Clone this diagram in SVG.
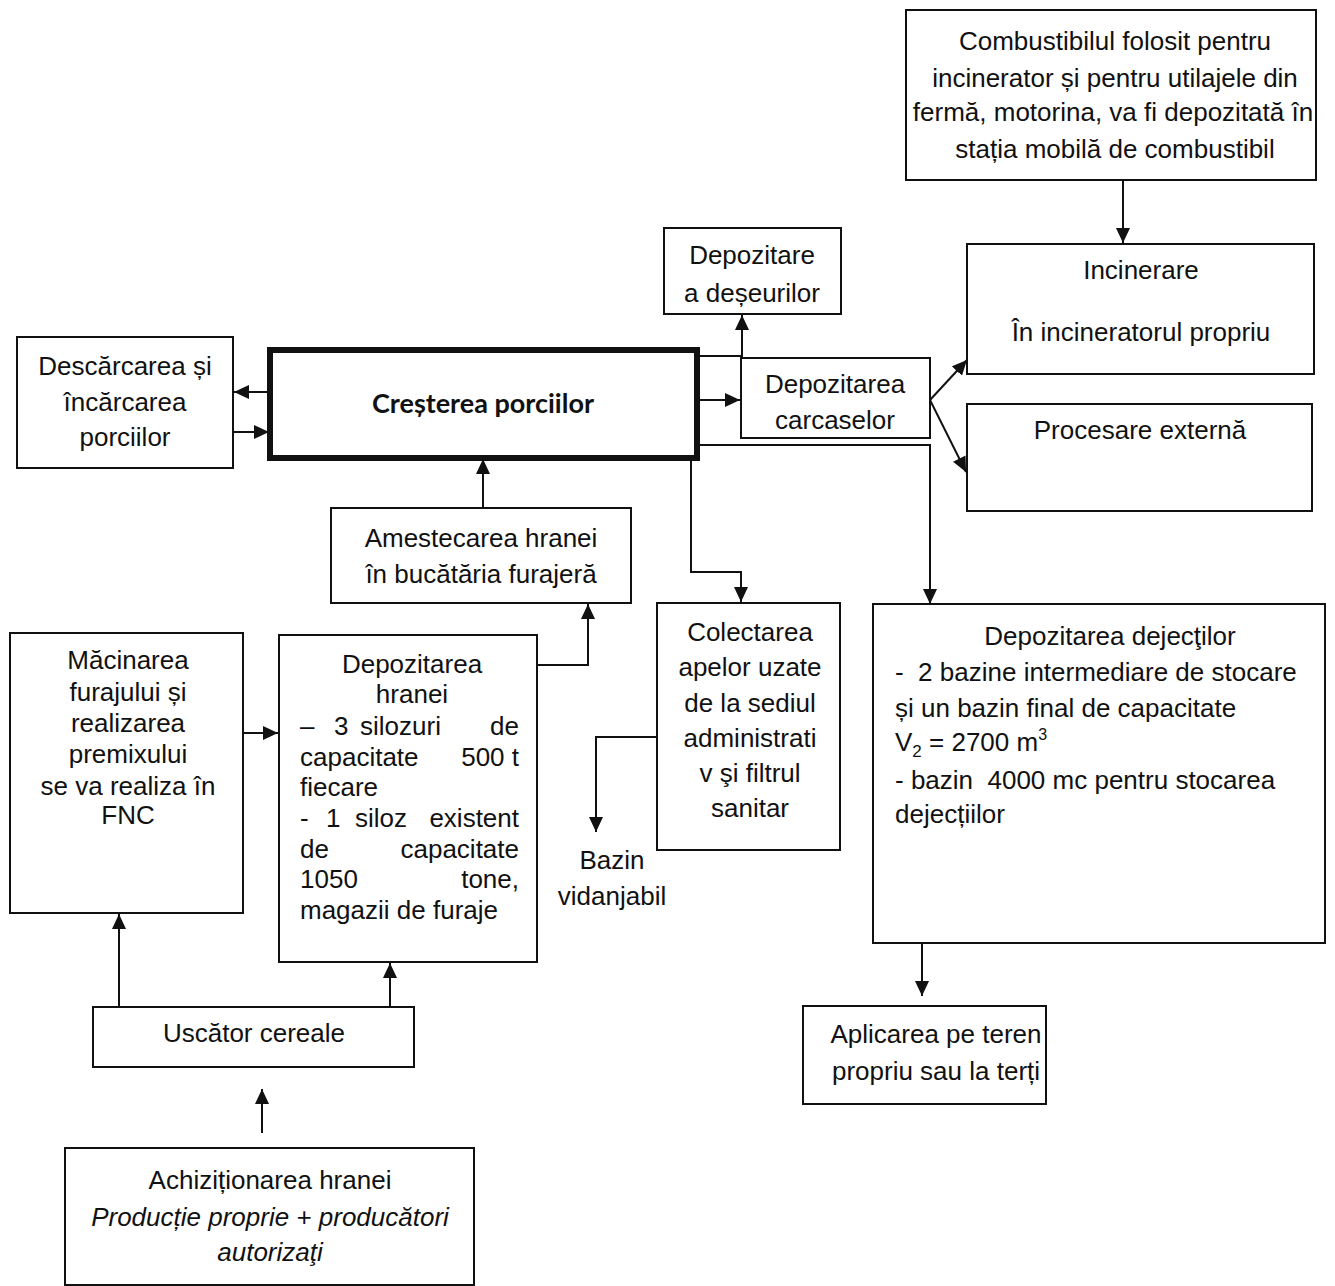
<svg xmlns="http://www.w3.org/2000/svg" width="1335" height="1286" viewBox="0 0 1335 1286">
<style>
.box{fill:#fff;stroke:#111;stroke-width:2}
.t{font-family:"Liberation Sans",Arial,sans-serif;font-size:26px;fill:#111}
.c{text-anchor:middle}
.r{text-anchor:end}
.i{font-style:italic}
.ln{fill:none;stroke:#111;stroke-width:2}
</style>
<defs>
<marker id="ah" markerUnits="userSpaceOnUse" markerWidth="16" markerHeight="14" refX="15" refY="7" orient="auto">
<path d="M0,0 L15,7 L0,14 Z" fill="#111"/>
</marker>
</defs>
<rect width="1335" height="1286" fill="#fff"/>

<g id="connectors">
<line class="ln" x1="1123" y1="180" x2="1123" y2="243" marker-end="url(#ah)"/>
<line class="ln" x1="270" y1="392" x2="234" y2="392" marker-end="url(#ah)"/>
<line class="ln" x1="233" y1="432" x2="269" y2="432" marker-end="url(#ah)"/>
<line class="ln" x1="697" y1="356" x2="741" y2="356"/>
<line class="ln" x1="697" y1="400" x2="740" y2="400" marker-end="url(#ah)"/>
<line class="ln" x1="742" y1="358" x2="742" y2="315" marker-end="url(#ah)"/>
<line class="ln" x1="930" y1="400" x2="967" y2="360" marker-end="url(#ah)"/>
<line class="ln" x1="930" y1="400" x2="966" y2="472" marker-end="url(#ah)"/>
<polyline class="ln" points="697,445 930,445 930,604" marker-end="url(#ah)"/>
<polyline class="ln" points="691,458 691,572 741,572 741,602" marker-end="url(#ah)"/>
<polyline class="ln" points="657,737 596,737 596,832" marker-end="url(#ah)"/>
<line class="ln" x1="483" y1="508" x2="483" y2="459" marker-end="url(#ah)"/>
<polyline class="ln" points="537,665 588,665 588,604" marker-end="url(#ah)"/>
<line class="ln" x1="243" y1="733" x2="278" y2="733" marker-end="url(#ah)"/>
<line class="ln" x1="119" y1="1007" x2="119" y2="914" marker-end="url(#ah)"/>
<line class="ln" x1="390" y1="1007" x2="390" y2="963" marker-end="url(#ah)"/>
<line class="ln" x1="262" y1="1133" x2="262" y2="1089" marker-end="url(#ah)"/>
<line class="ln" x1="922" y1="943" x2="922" y2="996" marker-end="url(#ah)"/>
</g>

<g id="combustibil">
<rect class="box" x="906" y="10" width="410" height="170"/>
<text class="t c" x="1115" y="50">Combustibilul folosit pentru</text>
<text class="t c" x="1115" y="87">incinerator și pentru utilajele din</text>
<text class="t c" x="1113" y="121">fermă, motorina, va fi depozitată în</text>
<text class="t c" x="1115" y="158">stația mobilă de combustibil</text>
</g>

<g id="incinerare">
<rect class="box" x="967" y="244" width="347" height="130"/>
<text class="t c" x="1141" y="279">Incinerare</text>
<text class="t c" x="1141" y="341">În incineratorul propriu</text>
</g>

<g id="procesare">
<rect class="box" x="967" y="404" width="345" height="107"/>
<text class="t c" x="1140" y="439">Procesare externă</text>
</g>

<g id="deseuri">
<rect class="box" x="664" y="228" width="177" height="86"/>
<text class="t c" x="752" y="264">Depozitare</text>
<text class="t c" x="752" y="302">a deșeurilor</text>
</g>

<g id="carcase">
<rect class="box" x="741" y="358" width="189" height="80"/>
<text class="t c" x="835" y="393">Depozitarea</text>
<text class="t c" x="835" y="429">carcaselor</text>
</g>

<g id="crestere">
<rect x="270" y="350" width="427" height="108" fill="#fff" stroke="#111" stroke-width="6"/>
<text x="483" y="413" text-anchor="middle" font-family="Lato,'Open Sans',sans-serif" font-weight="bold" font-size="27" fill="#111">Creșterea porciilor</text>
</g>

<g id="descarcare">
<rect class="box" x="17" y="337" width="216" height="131"/>
<text class="t c" x="125" y="375">Descărcarea și</text>
<text class="t c" x="125" y="411">încărcarea</text>
<text class="t c" x="125" y="446">porciilor</text>
</g>

<g id="amestecare">
<rect class="box" x="331" y="508" width="300" height="95"/>
<text class="t c" x="481" y="547">Amestecarea hranei</text>
<text class="t c" x="481" y="583">în bucătăria furajeră</text>
</g>

<g id="macinare">
<rect class="box" x="10" y="633" width="233" height="280"/>
<text class="t c" x="128" y="669">Măcinarea</text>
<text class="t c" x="128" y="701">furajului și</text>
<text class="t c" x="128" y="732">realizarea</text>
<text class="t c" x="128" y="763">premixului</text>
<text class="t c" x="128" y="795">se va realiza în</text>
<text class="t c" x="128" y="824">FNC</text>
</g>

<g id="depozitare-hrana">
<rect class="box" x="279" y="635" width="258" height="327"/>
<text class="t c" x="412" y="673">Depozitarea</text>
<text class="t c" x="412" y="703">hranei</text>
<text class="t" x="300" y="735">–</text>
<text class="t" x="334" y="735">3</text>
<text class="t" x="360" y="735">silozuri</text>
<text class="t r" x="519" y="735">de</text>
<text class="t" x="300" y="766">capacitate</text>
<text class="t r" x="519" y="766">500 t</text>
<text class="t" x="300" y="796">fiecare</text>
<text class="t" x="300" y="827">-</text>
<text class="t" x="326" y="827">1</text>
<text class="t" x="355" y="827">siloz</text>
<text class="t r" x="519" y="827">existent</text>
<text class="t" x="300" y="858">de</text>
<text class="t r" x="519" y="858">capacitate</text>
<text class="t" x="300" y="888">1050</text>
<text class="t r" x="519" y="888">tone,</text>
<text class="t" x="300" y="919">magazii de furaje</text>
</g>

<g id="bazin">
<text class="t c" x="612" y="869">Bazin</text>
<text class="t c" x="612" y="905">vidanjabil</text>
</g>

<g id="colectare">
<rect class="box" x="657" y="603" width="183" height="247"/>
<text class="t c" x="750" y="641">Colectarea</text>
<text class="t c" x="750" y="676">apelor uzate</text>
<text class="t c" x="750" y="712">de la sediul</text>
<text class="t c" x="750" y="747">administrati</text>
<text class="t c" x="750" y="782">v şi filtrul</text>
<text class="t c" x="750" y="817">sanitar</text>
</g>

<g id="dejectii">
<rect class="box" x="873" y="604" width="452" height="339"/>
<text class="t c" x="1110" y="645">Depozitarea dejecţilor</text>
<text class="t" x="895" y="681" xml:space="preserve">-  2 bazine intermediare de stocare</text>
<text class="t" x="895" y="717">și un bazin final de capacitate</text>
<text class="t" x="895" y="751">V<tspan font-size="17" dy="6">2</tspan><tspan dy="-6"> = 2700 m</tspan><tspan font-size="16" dy="-11">3</tspan></text>
<text class="t" x="895" y="789" xml:space="preserve">- bazin  4000 mc pentru stocarea</text>
<text class="t" x="895" y="823">dejecțiilor</text>
</g>

<g id="aplicare">
<rect class="box" x="803" y="1006" width="243" height="98"/>
<text class="t c" x="936" y="1043">Aplicarea pe teren</text>
<text class="t c" x="936" y="1080">propriu sau la terți</text>
</g>

<g id="uscator">
<rect class="box" x="93" y="1007" width="321" height="60"/>
<text class="t c" x="254" y="1042">Uscător cereale</text>
</g>

<g id="achizitie">
<rect class="box" x="65" y="1148" width="409" height="137"/>
<text class="t c" x="270" y="1189">Achiziționarea hranei</text>
<text class="t c i" x="270" y="1226">Producție proprie + producători</text>
<text class="t c i" x="270" y="1261">autorizaţi</text>
</g>
</svg>
